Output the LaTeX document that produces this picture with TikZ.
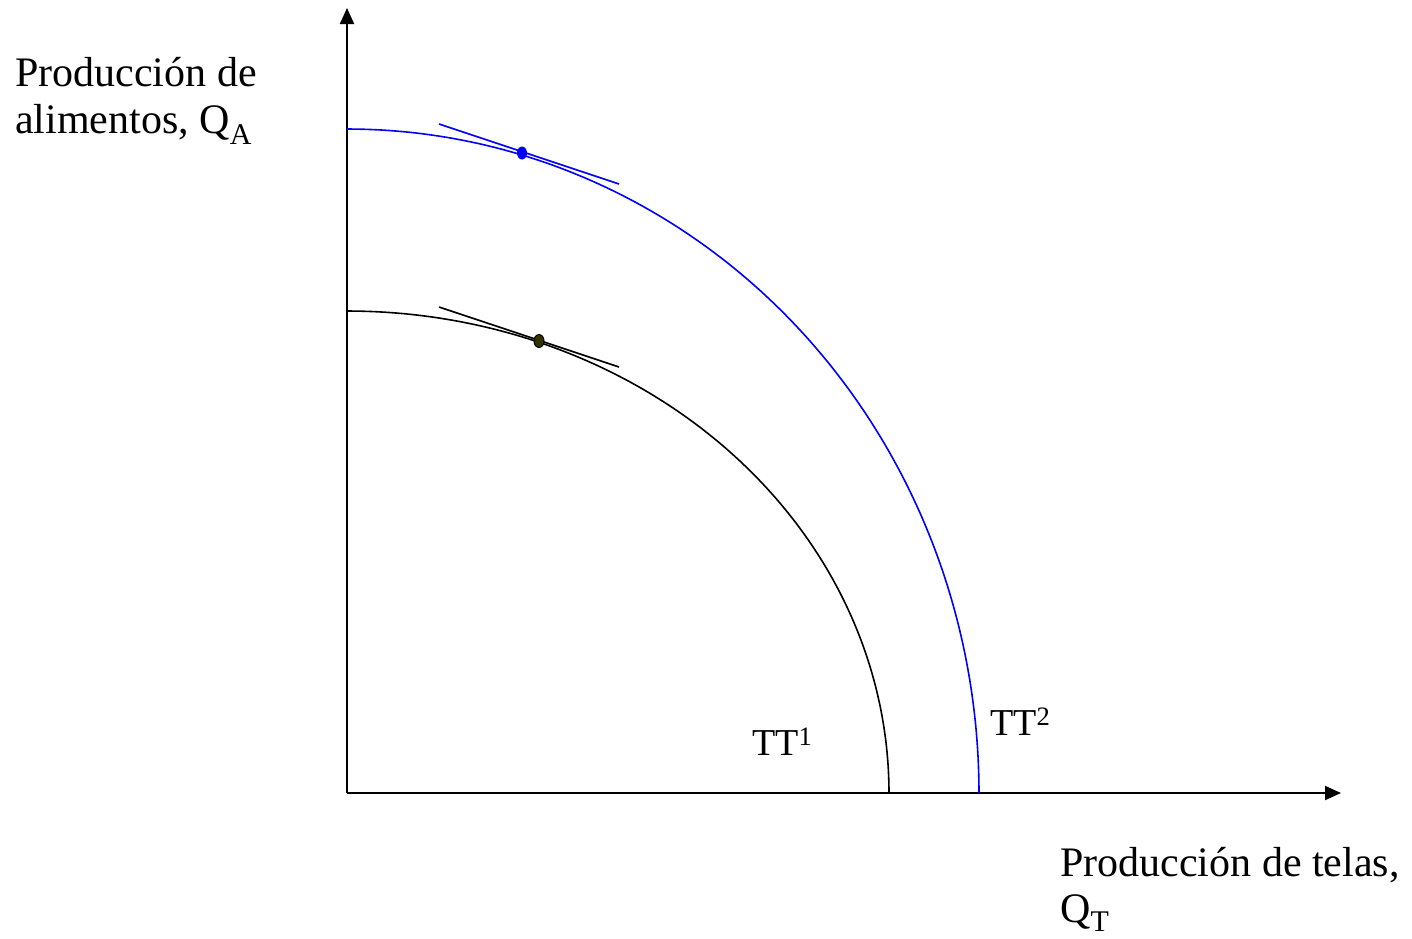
\documentclass[tikz,border=0pt]{standalone}
\usepackage{fontspec}
\setmainfont{Liberation Serif}
\usetikzlibrary{arrows.meta}
\definecolor{ppfblue}{RGB}{0,0,255}
\definecolor{dotolive}{RGB}{51,51,0}
\newcommand\mysubs[2][11pt]{\raisebox{-#1}{\fontsize{30}{32}\selectfont #2}}
\tikzset{
  axis/.style={line width=2pt,-{Triangle[length=16pt,width=14pt]}},
  curve/.style={line width=1.6pt},
  tangent/.style={line width=1.6pt},
  lbl/.style={anchor=base west,inner sep=0pt,font=\fontsize{42}{50}\selectfont},
  ttl/.style={anchor=base west,inner sep=0pt,font=\fontsize{38}{44}\selectfont}
}
\begin{document}
\begin{tikzpicture}[x=1pt,y=-1pt]
\useasboundingbox (0,0) rectangle (1412,938);
\coordinate (O) at (347,793);
\coordinate (ytop) at (347,8);
\coordinate (xend) at (1341,793);
\draw[axis] (O) -- (ytop);
\draw[axis] (O) -- (xend);
% curves
\draw[curve,black] plot[domain=0:90,samples=120] ({347+542*sin(\x)},{793-482*cos(\x)});
\draw[curve,ppfblue] plot[domain=0:90,samples=120] ({347+632*sin(\x)},{793-664*cos(\x)});
% tangents
\coordinate (t1a) at (439,307);
\coordinate (t1b) at (619,367);
\coordinate (t2a) at (439,124);
\coordinate (t2b) at (619,184);
\draw[tangent,black] (t1a) -- (t1b);
\draw[tangent,ppfblue] (t2a) -- (t2b);
% points
\coordinate (p1) at (539,341);
\coordinate (p2) at (522,153);
\draw[line width=1pt,black,fill=dotolive] (p1) ellipse [x radius=5pt,y radius=6.5pt];
\fill[ppfblue] (p2) ellipse [x radius=5pt,y radius=6.5pt];
% labels
\node[lbl] (ylab1) at (15,86) {Producción de};
\node[lbl] (ylab2) at (15,133) {alimentos, Q\mysubs{A}};
\node[lbl] (xlab1) at (1060,876) {Producción de telas,};
\node[lbl] (xlab2) at (1060,922) {Q\mysubs[9pt]{T}};
\node[ttl] (tt1) at (752,755) {TT\textsuperscript{1}};
\node[ttl] (tt2) at (990,735) {TT\textsuperscript{2}};
\end{tikzpicture}
\end{document}
